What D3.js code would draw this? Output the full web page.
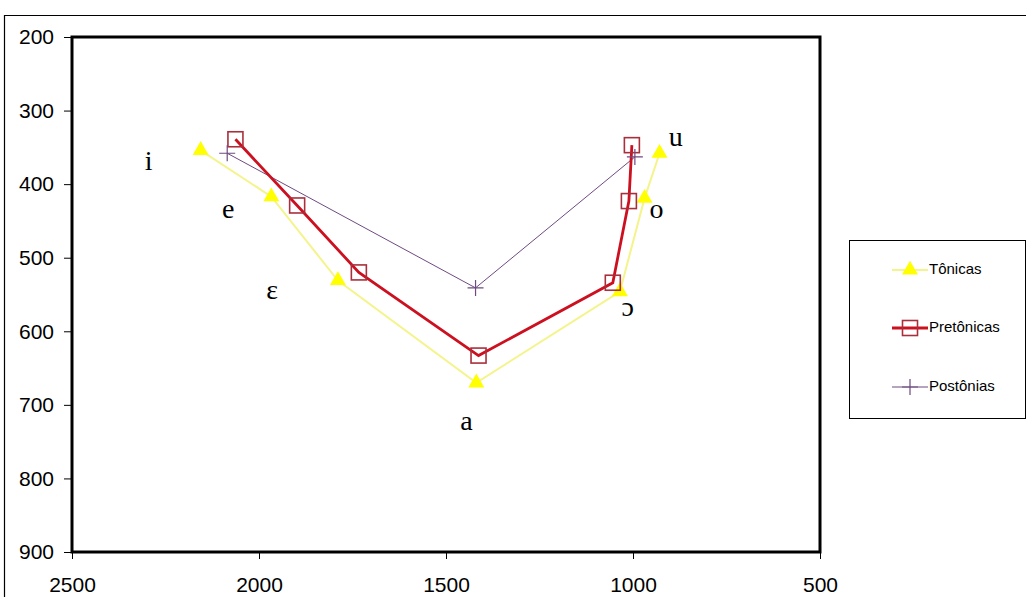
<!DOCTYPE html>
<html><head><meta charset="utf-8">
<script src="https://cdn.jsdelivr.net/npm/d3@7"></script>
<style>body{margin:0;background:#fff}svg{display:block}</style>
</head><body>
<svg id="c" width="1026" height="597"></svg>
<script>
// Data (F2 on x, F1 on y)
const vowels = ["i","e","ɛ","a","ɔ","o","u"];
const tonicasF2 = [2156,1967,1789,1419,1035,969,929];
const tonicasF1 = [354,417,531,670,546,419,358];
const pretonicasF2 = [2063,1898,1733,1413,1054,1011,1003];
const pretonicasF1 = [339,429,520,633,534,423,347];
const postoniasVowels = ["i","a","u"];
const postoniasF2 = [2085,1421,995];
const postoniasF1 = [358,541,363];
const labelF2 = [2295,2082,1965,1445,1014,937,886];
const labelF1 = [372,437,547,725,571,437,340];
const xTicks = [2500,2000,1500,1000,500];
const yTicks = [200,300,400,500,600,700,800,900];
const seriesNames = ["Tônicas","Pretônicas","Postônias"];

const svg = d3.select("#c");
const L=72,R=820,T=37,B=552;
const x = d3.scaleLinear().domain([2500,500]).range([L,R]);
const y = d3.scaleLinear().domain([200,900]).range([T,B]);

// outer frame
svg.append("path").attr("d","M4.5,597 V15.5 H1026").attr("fill","none").attr("stroke","#000").attr("stroke-width",1.2);

// axes
const ax = svg.append("g").attr("transform",`translate(0,${B})`)
  .call(d3.axisBottom(x).tickValues(xTicks).tickSize(7).tickPadding(18).tickFormat(d3.format("d")));
const ay = svg.append("g").attr("transform",`translate(${L},0)`)
  .call(d3.axisLeft(y).tickValues(yTicks).tickSize(8).tickPadding(10).tickFormat(d3.format("d")));
[ax,ay].forEach(g=>{
  g.select(".domain").remove();
  g.selectAll("text").attr("font-family","Liberation Sans, Arial, sans-serif").attr("font-size",21).attr("fill","#000");
  g.selectAll("line").attr("stroke","#000").attr("stroke-width",1);
});
ax.selectAll("text").attr("dy","0.71em");

// plot frame
svg.append("rect").attr("x",L).attr("y",T).attr("width",R-L).attr("height",B-T)
  .attr("fill","none").attr("stroke","#000").attr("stroke-width",3);

// series
const line = d3.line();
const tPts = tonicasF2.map((v,i)=>[x(v),y(tonicasF1[i])]);
const pPts = pretonicasF2.map((v,i)=>[x(v),y(pretonicasF1[i])]);
const qPts = postoniasF2.map((v,i)=>[x(v),y(postoniasF1[i])]);

svg.append("path").attr("d",line(tPts)).attr("fill","none").attr("stroke","#f4f48c").attr("stroke-width",2);
svg.append("path").attr("d",line(qPts)).attr("fill","none").attr("stroke","#6e4a80").attr("stroke-width",1);
svg.append("path").attr("d",line(pPts)).attr("fill","none").attr("stroke","#cc1020").attr("stroke-width",2.8);

const tri = d3.symbol().type(d3.symbolTriangle).size(110);
function triangle(g,px,py){g.append("path").attr("d",tri()).attr("transform",`translate(${px},${py})`).attr("fill","#ffff00").attr("stroke","none");}
function square(g,px,py){g.append("rect").attr("x",px-7.5).attr("y",py-7.5).attr("width",15).attr("height",15).attr("fill","none").attr("stroke","#a8303c").attr("stroke-width",1.6);}
function plus(g,px,py){g.append("path").attr("d",`M${px-8},${py}H${px+8}M${px},${py-8}V${py+8}`).attr("stroke","#6e4a80").attr("stroke-width",1.2);}

const mk = svg.append("g");
tPts.forEach(p=>triangle(mk,p[0],p[1]));
pPts.forEach(p=>square(mk,p[0],p[1]));
qPts.forEach(p=>plus(mk,p[0],p[1]));

// vowel labels
svg.append("g").selectAll("text").data(vowels).join("text")
  .attr("x",(d,i)=>x(labelF2[i])).attr("y",(d,i)=>y(labelF1[i]))
  .attr("text-anchor","middle").attr("dominant-baseline","middle")
  .attr("font-family","Liberation Serif, DejaVu Serif, serif").attr("font-size",28).attr("fill","#000")
  .text(d=>d);

// legend
const lg = svg.append("g");
lg.append("rect").attr("x",849.5).attr("y",240.5).attr("width",176).attr("height",178).attr("fill","#fff").attr("stroke","#000").attr("stroke-width",1);
const ly = [270,328,387];
seriesNames.forEach((n,i)=>{
  const yy = ly[i];
  const col = i===0?"#f4f48c":(i===1?"#cc1020":"#6e4a80");
  lg.append("line").attr("x1",892).attr("x2",928).attr("y1",yy).attr("y2",yy).attr("stroke",col).attr("stroke-width",i===1?2.8:(i===0?2:1));
  if(i===0) triangle(lg,910,yy); else if(i===1) square(lg,910,yy); else plus(lg,910,yy);
  lg.append("text").attr("x",929).attr("y",yy).attr("dominant-baseline","middle")
    .attr("font-family","Liberation Sans, Arial, sans-serif").attr("font-size",15).attr("fill","#000").text(n);
});
</script>
</body></html>
